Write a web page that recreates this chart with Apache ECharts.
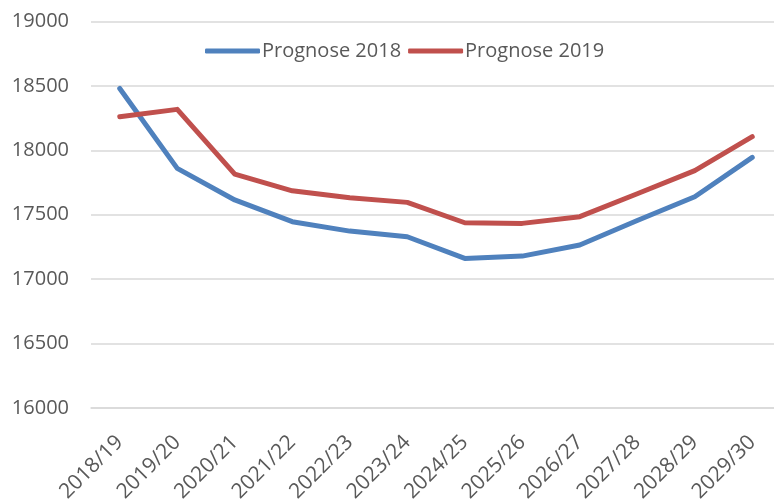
<!DOCTYPE html>
<html>
<head>
<meta charset="utf-8">
<script src="https://cdn.jsdelivr.net/npm/echarts@6/dist/echarts.min.js"></script>
<style>html,body{margin:0;padding:0;background:#fff;}#c{width:774px;height:499px;}</style>
</head>
<body>
<div id="c"></div>
<script>
var categories = ['2018/19','2019/20','2020/21','2021/22','2022/23','2023/24','2024/25','2025/26','2026/27','2027/28','2028/29','2029/30'];
var prognose2018 = [18480, 17860, 17615, 17446, 17373, 17329, 17161, 17179, 17265, 17455, 17640, 17945];
var prognose2019 = [18261, 18318, 17816, 17686, 17632, 17596, 17438, 17433, 17485, 17663, 17842, 18106];
var yMin = 16000, yMax = 19000, yStep = 500;

var font = 'Open Sans';
var chart = echarts.init(document.getElementById('c'));
chart.setOption({
  animation: false,
  textStyle: {fontFamily: font},
  grid: {left: 91, right: -7, top: 21.5, bottom: 91, containLabel: false, outerBoundsMode: 'none'},
  legend: {
    left: 200, top: 36,
    icon: 'roundRect',
    itemWidth: 55, itemHeight: 5, itemGap: 7,
    textStyle: {fontFamily: font, fontSize: 20, color: '#595959', padding: [0,0,0,-3]},
    data: ['Prognose 2018', 'Prognose 2019']
  },
  xAxis: {
    type: 'category',
    data: categories,
    boundaryGap: true,
    axisLine: {show: true, lineStyle: {color: '#d9d9d9', width: 1.5}},
    axisTick: {show: false},
    axisLabel: {rotate: 45, margin: 31, fontSize: 21, color: '#595959', fontFamily: font}
  },
  yAxis: {
    type: 'value',
    min: yMin, max: yMax, interval: yStep,
    axisLine: {show: false},
    axisTick: {show: false},
    splitLine: {lineStyle: {color: '#d9d9d9', width: 1.5}},
    axisLabel: {margin: 22, fontSize: 20, color: '#595959', fontFamily: font, formatter: function(v){return String(v);}}
  },
  series: [
    {name: 'Prognose 2018', type: 'line', data: prognose2018, symbol: 'none',
     lineStyle: {color: '#4f81bd', width: 5, cap: 'round', join: 'round'}, itemStyle: {color: '#4f81bd'}},
    {name: 'Prognose 2019', type: 'line', data: prognose2019, symbol: 'none',
     lineStyle: {color: '#c0504d', width: 5, cap: 'round', join: 'round'}, itemStyle: {color: '#c0504d'}}
  ]
});
</script>
</body>
</html>
